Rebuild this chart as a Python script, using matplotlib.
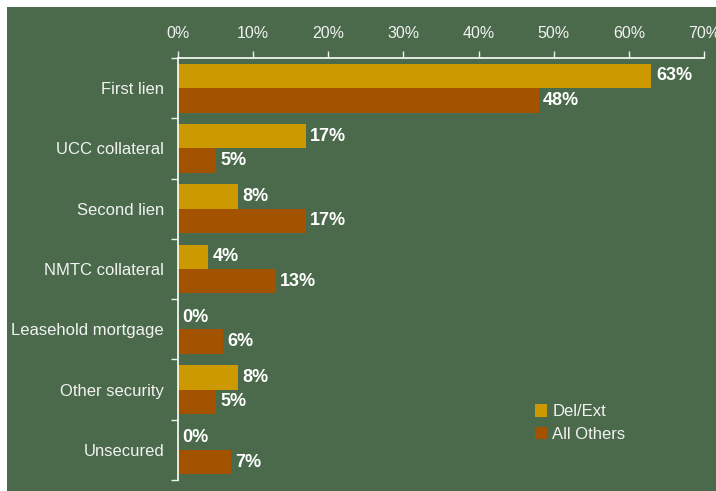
import matplotlib
matplotlib.use("Agg")
import matplotlib.pyplot as plt
import numpy as np
from matplotlib.patches import Rectangle

categories = ["First lien", "UCC collateral", "Second lien", "NMTC collateral",
              "Leasehold mortgage", "Other security", "Unsecured"]
del_ext = [63, 17, 8, 4, 0, 8, 0]
all_others = [48, 5, 17, 13, 6, 5, 7]
xticks = [0, 10, 20, 30, 40, 50, 60, 70]

GREEN = "#4a6a4b"
GOLD = "#cc9900"
RUST = "#a35200"
TXT = "#f2f2f2"

plt.rcParams["font.family"] = ["Liberation Sans", "DejaVu Sans"]

W, H = 716, 491
fig = plt.figure(figsize=(W / 100, H / 100), dpi=100)
fig.patch.set_facecolor("white")
fig.patches.append(Rectangle((7 / W, 0), 1 - 7 / W, 1 - 7 / H, transform=fig.transFigure,
                             facecolor=GREEN, edgecolor="none", zorder=-5))

ax = fig.add_axes([178 / W, 11 / H, (704 - 178) / W, (480 - 58) / H])
ax.set_facecolor("none")
ax.set_zorder(2)

y = np.arange(len(categories))
h = 0.405
ax.barh(y - h / 2, del_ext, height=h, color=GOLD, label="Del/Ext")
ax.barh(y + h / 2, all_others, height=h, color=RUST, label="All Others")

for yi, v in zip(y, del_ext):
    ax.text(v + 0.6, yi - h / 2, f"{v:.0f}%", va="center", ha="left",
            color="white", fontsize=13, fontweight="bold")
for yi, v in zip(y, all_others):
    ax.text(v + 0.6, yi + h / 2, f"{v:.0f}%", va="center", ha="left",
            color="white", fontsize=13, fontweight="bold")

ax.set_xlim(0, 70)
ax.set_ylim(len(categories) - 0.5, -0.5)
ax.xaxis.tick_top()
ax.set_xticks(xticks)
ax.set_xticklabels([f"{t}%" for t in xticks])
ax.tick_params(axis="x", colors=TXT, labelcolor=TXT, labelsize=11.5, length=5, pad=7, width=1)

ax.set_yticks(y)
ax.set_yticklabels(categories)
ax.set_yticks(np.arange(len(categories) + 1) - 0.5, minor=True)
ax.tick_params(axis="y", which="major", length=0, labelsize=12, labelcolor=TXT, pad=10)
ax.tick_params(axis="y", which="minor", length=5, color=TXT, width=1)

for s in ["right", "bottom"]:
    ax.spines[s].set_visible(False)
for s in ["left", "top"]:
    ax.spines[s].set_color("white")
    ax.spines[s].set_linewidth(1.2)

leg = ax.legend(loc="lower left", bbox_to_anchor=(0.65, 0.055), frameon=False,
                fontsize=12, handlelength=0.75, handleheight=0.75, handletextpad=0.3,
                labelspacing=0.45)
for t in leg.get_texts():
    t.set_color(TXT)

fig.savefig("out.png", dpi=100)
